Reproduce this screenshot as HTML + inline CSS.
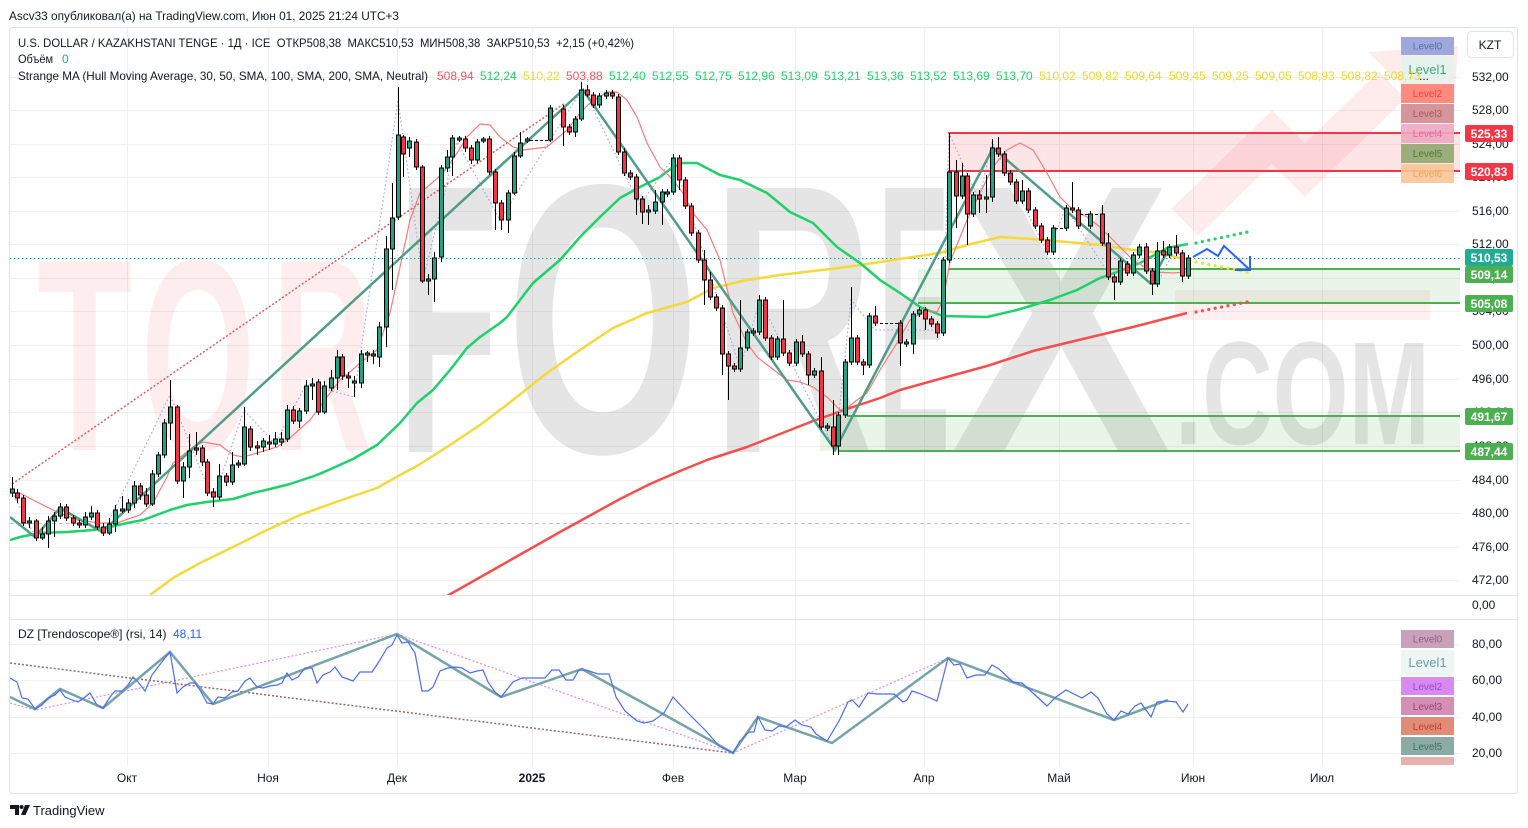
<!DOCTYPE html>
<html><head><meta charset="utf-8"><style>
html,body{margin:0;padding:0;background:#fff;width:1528px;height:828px;overflow:hidden}
svg{display:block;font-family:"Liberation Sans","DejaVu Sans",sans-serif}
</style></head><body>
<svg width="1528" height="828" viewBox="0 0 1528 828" xmlns="http://www.w3.org/2000/svg">
<defs>
<clipPath id="cm"><rect x="10" y="27" width="1450" height="568"/></clipPath>
<clipPath id="cr"><rect x="10" y="620" width="1450" height="146"/></clipPath>
</defs>
<rect width="1528" height="828" fill="#fff"/>
<!-- header -->
<text x="9" y="20" font-size="12" fill="#131722" textLength="390" lengthAdjust="spacingAndGlyphs">Ascv33 опубликовал(а) на TradingView.com, Июн 01, 2025 21:24 UTC+3</text>
<rect x="9.5" y="27.5" width="1508" height="766" rx="3" fill="#fff" stroke="#e0e3eb"/>

<!-- grid main -->
<g stroke="#efefef" stroke-width="1">
<path d="M10 77.5H1460M10 110.5H1460M10 144.5H1460M10 177.5H1460M10 211.5H1460M10 244.5H1460M10 278.5H1460M10 311.5H1460M10 345.5H1460M10 379.5H1460M10 412.5H1460M10 446.5H1460M10 480.5H1460M10 513.5H1460M10 547.5H1460M10 580.5H1460"/>
<path d="M127.5 28V766M268.5 28V766M397.5 28V766M532.5 28V766M673.5 28V766M795.5 28V766M924.5 28V766M1059.5 28V766M1193.5 28V766M1322.5 28V766"/>
<path d="M10 644.5H1460M10 680.5H1460M10 717.5H1460M10 753.5H1460"/>
</g>
<path d="M10 595.5H1517M10 619.5H1517" stroke="#e0e3eb"/>

<g clip-path="url(#cm)">
<!-- watermark -->
<g font-weight="bold" fill="#f23645" fill-opacity="0.09" font-size="274" lengthAdjust="spacingAndGlyphs">
<text x="37" y="450" textLength="95" lengthAdjust="spacingAndGlyphs">T</text>
<text x="141" y="450" textLength="114" lengthAdjust="spacingAndGlyphs">O</text>
<text x="272" y="450" textLength="100" lengthAdjust="spacingAndGlyphs">R</text>
</g>
<g font-weight="bold" fill="#000" fill-opacity="0.1" font-size="384">
<text x="398" y="452" textLength="100" lengthAdjust="spacingAndGlyphs">F</text>
<text x="506" y="452" textLength="194" lengthAdjust="spacingAndGlyphs">O</text>
<text x="712" y="452" textLength="162" lengthAdjust="spacingAndGlyphs">R</text>
<text x="878" y="452" textLength="72" lengthAdjust="spacingAndGlyphs">E</text>
<text x="950" y="452" textLength="222" lengthAdjust="spacingAndGlyphs">X</text>
</g>
<text x="1175" y="444" font-size="147" font-weight="bold" fill="#000" fill-opacity="0.1" textLength="255" lengthAdjust="spacingAndGlyphs">.COM</text>
<polyline points="1185,222 1272,137 1305,170 1392,85" fill="none" stroke="#f23645" stroke-opacity="0.1" stroke-width="38"/>
<polygon points="1368,52 1458,46 1452,134" fill="#f23645" fill-opacity="0.1"/>
<rect x="1175" y="290" width="255" height="30" fill="#f23645" fill-opacity="0.08"/>

<!-- zones -->
<rect x="948" y="133" width="512" height="38" fill="#f23645" fill-opacity="0.13"/>
<rect x="918" y="269" width="542" height="34" fill="#4caf50" fill-opacity="0.13"/>
<rect x="820" y="416" width="640" height="35" fill="#4caf50" fill-opacity="0.13"/>
<path d="M948 133H1460M948 171H1460" stroke="#f23645" stroke-width="2"/>
<path d="M948 269H1460M918 303H1460M847 416H1460M838 451H1460" stroke="#4caf50" stroke-width="2"/>
<path d="M10 523.5H1190" stroke="#c9c4c8" stroke-dasharray="4 3"/>
<path d="M10 258.5H1460" stroke="#22ab94" stroke-dasharray="1.5 2.5"/>

<!-- red dotted trend -->
<path d="M12 484L565 103" stroke="#e35a5a" stroke-width="1.5" stroke-dasharray="2 2" fill="none"/>
<!-- moving averages -->
<polyline fill="none" stroke="#f5d93a" stroke-width="2.5" stroke-linejoin="round" points="150,595 173,578 200,563 233,547 267,530 300,515 333,503 377,488 400,475 417,466 450,445 480,425 513,400 547,373 580,350 613,328 647,313 687,302 713,288 747,280 780,275 813,271 847,267 880,262 913,257 940,253 967,245 1000,237 1033,239 1067,242 1100,245 1133,250 1153,252 1167,255 1180,258 1188,259"/>
<polyline fill="none" stroke="#f44e4e" stroke-width="2.5" stroke-linejoin="round" points="447,596 500,566 560,532 620,499 650,484 680,471 707,460 747,447 780,434 813,421 847,409 880,398 900,390 943,378 987,366 1033,351 1087,338 1133,327 1187,313"/>
<polyline fill="none" stroke="#1fd16a" stroke-width="2.5" stroke-linejoin="round" points="10,540 20,537 40,533 67,532 93,530 110,527 127,523 143,520 170,510 187,505 207,502 233,499 253,493 270,489 290,484 317,475 333,468 353,459 377,445 400,423 417,403 433,390 450,370 467,348 480,337 500,323 507,317 533,283 560,260 580,237 600,217 620,198 640,187 660,177 673,167 683,163 697,163 720,175 740,180 767,193 790,212 813,223 837,247 860,263 880,280 900,293 920,307 943,316 987,317 1017,310 1050,300 1077,290 1100,278 1117,272 1140,263 1167,248 1188,244"/>
<g fill="none" stroke-width="3.2" stroke-linecap="round" stroke-dasharray="0 6.5">
<path d="M1196 243L1252 231" stroke="#1fd16a"/>
<path d="M1196 262L1252 273" stroke="#f2dd2a"/>
<path d="M1196 312L1252 301" stroke="#f44e4e"/>
</g>
<polyline fill="none" stroke="#f77b7b" stroke-width="1.2" points="10,493 20,493 33,500 53,510 77,520 100,523 117,523 140,515 153,503 167,477 173,463 193,447 203,442 220,445 233,455 243,457 257,453 277,447 290,438 310,420 327,397 340,380 350,372 360,363 377,350 390,313 400,267 410,220 420,193 433,182 443,173 457,153 467,137 480,124 490,125 500,137 513,147 523,150 547,147 567,130 580,113 590,103 607,92 617,92 627,100 637,117 647,143 660,167 673,180 683,193 693,213 707,230 720,260 733,313 747,343 757,357 770,367 787,380 800,382 813,387 827,397 840,410 847,408 857,400 867,393 880,370 897,343 910,320 927,310 937,312 943,300 950,262 967,220 980,193 993,167 1007,150 1020,143 1033,150 1047,173 1060,197 1073,210 1087,217 1100,227 1113,240 1133,260 1153,272 1173,273 1187,272"/>
<polyline fill="none" stroke="#9fa8da" stroke-width="1.2" stroke-dasharray="1.5 2.5" points="12,492 36,538 60,507 103,533 170,395 213,500 244,410 275,444 306,384 354,397 398,100 423,280 457,142 500,220 583,88 640,205 673,158 740,368 760,300 835,450 851,300 875,330 943,330 949,133 979,200 992,142 1047,252 1066,208 1114,282 1133,255 1157,284 1176,247 1188,276"/>
<!-- zigzag -->
<polyline fill="none" stroke="#4f9c89" stroke-width="2.5" points="10,517 35,537 60,508 102,532 583,90 835,450 993,148 1150,283 1170,247"/>

<!-- gaps -->
<path d="M530 140.5H550M880 323.5H898M1055 228.5H1066M1080 214.5H1101" stroke="#000" stroke-dasharray="3 2"/>
<!-- candles -->
<g transform="translate(0.5,0)">
<path stroke="#000" stroke-width="1" fill="none" d="M12 477V497M17 489V503M23 495V526M29 517V528M36 519V541M42 527V540M48 516V548M54 512V537M60 503V519M66 504V521M73 515V526M79 520V528M85 512V528M91 506V520M97 510V530M103 523V536M109 518V535M115 505V532M122 496V513M128 499V513M134 481V508M140 483V500M146 488V507M152 470V506M158 452V477M164 419V458M170 380V440M177 405V484M183 462V498M189 434V478M196 432V455M202 445V466M207 459V496M213 488V507M219 464V500M226 473V486M232 452V485M238 460V468M244 407V466M250 426V451M257 441V455M263 438V452M269 435V450M275 432V447M281 432V446M287 405V442M293 406V424M299 408V428M306 380V414M312 378V400M318 379V415M324 381V414M331 370V391M337 350V390M342 354V380M348 372V388M354 376V397M361 350V388M367 351V362M373 350V364M379 322V367M386 236V347M392 183V290M398 87V220M403 135V177M409 137V157M416 139V170M422 165V283M428 274V295M434 252V302M441 165V262M447 150V172M452 135V176M459 136V142M465 136V152M471 145V164M477 139V163M483 137V143M489 136V175M495 169V230M501 200V230M508 190V233M514 152V195M520 132V158M527 137V143M550 105V142M563 105V146M569 124V135M575 116V137M581 82V121M587 85V97M593 92V108M599 93V108M606 90V99M612 90V99M618 94V155M624 148V176M630 170V180M636 174V215M642 196V224M648 205V225M655 190V214M662 189V225M667 189V197M673 154V195M679 155V190M685 177V209M691 203V236M698 230V263M704 250V305M710 272V300M716 294V311M722 305V375M728 351V400M734 363V372M740 300V372M747 329V351M753 328V336M759 295V335M765 297V341M771 335V360M777 336V360M783 300V356M789 350V366M796 339V366M802 335V357M808 351V385M814 368V378M821 357V430M827 423V431M833 400V455M838 412V455M845 359V418M851 287V365M857 335V365M863 359V375M869 313V368M875 306V326M900 320V366M906 339V347M913 311V354M919 307V317M925 307V330M931 316V327M937 321V338M943 257V336M949 133V263M956 160V228M962 163V199M967 173V245M973 192V217M979 190V213M986 175V213M992 139V202M998 137V157M1004 151V176M1010 170V185M1016 179V204M1022 180V204M1028 188V213M1035 207V229M1041 223V243M1047 237V255M1053 225V255M1066 205V231M1072 182V213M1078 207V229M1090 211V229M1102 205V246M1108 233V280M1114 274V300M1120 258V285M1127 261V276M1133 252V276M1139 244V258M1146 243V274M1152 268V295M1157 242V287M1163 241V258M1169 244V258M1176 235V256M1182 250V282M1188 255V279"/>
<g fill="#21a283" stroke="#000" stroke-width="1">
<rect x="10" y="489" width="4" height="4"/><rect x="27" y="521" width="4" height="2"/><rect x="40" y="534" width="4" height="4"/><rect x="46" y="521" width="4" height="13"/><rect x="52" y="516" width="4" height="5"/><rect x="58" y="507" width="4" height="9"/><rect x="83" y="517" width="4" height="8"/><rect x="89" y="513" width="4" height="4"/><rect x="107" y="524" width="4" height="9"/><rect x="113" y="510" width="4" height="14"/><rect x="120" y="509" width="4" height="2"/><rect x="126" y="503" width="4" height="7"/><rect x="132" y="486" width="4" height="17"/><rect x="150" y="474" width="4" height="30"/><rect x="156" y="455" width="4" height="19"/><rect x="162" y="423" width="4" height="32"/><rect x="168" y="407" width="4" height="16"/><rect x="181" y="467" width="4" height="14"/><rect x="187" y="451" width="4" height="16"/><rect x="217" y="476" width="4" height="21"/><rect x="230" y="465" width="4" height="17"/><rect x="236" y="463" width="4" height="2"/><rect x="242" y="427" width="4" height="37"/><rect x="261" y="441" width="4" height="6"/><rect x="273" y="439" width="4" height="5"/><rect x="279" y="439" width="4" height="3"/><rect x="285" y="410" width="4" height="29"/><rect x="297" y="411" width="4" height="10"/><rect x="304" y="386" width="4" height="25"/><rect x="310" y="384" width="4" height="2"/><rect x="322" y="386" width="4" height="26"/><rect x="329" y="378" width="4" height="10"/><rect x="335" y="357" width="4" height="21"/><rect x="352" y="381" width="4" height="2"/><rect x="359" y="354" width="4" height="29"/><rect x="365" y="353" width="4" height="2"/><rect x="371" y="354" width="4" height="2"/><rect x="377" y="327" width="4" height="30"/><rect x="384" y="249" width="4" height="78"/><rect x="390" y="218" width="4" height="31"/><rect x="396" y="135" width="4" height="82"/><rect x="407" y="141" width="4" height="7"/><rect x="426" y="279" width="4" height="2"/><rect x="432" y="258" width="4" height="21"/><rect x="439" y="168" width="4" height="89"/><rect x="445" y="157" width="4" height="11"/><rect x="450" y="138" width="4" height="19"/><rect x="457" y="138" width="4" height="2"/><rect x="475" y="142" width="4" height="18"/><rect x="481" y="139" width="4" height="2"/><rect x="506" y="193" width="4" height="27"/><rect x="512" y="156" width="4" height="37"/><rect x="518" y="143" width="4" height="13"/><rect x="525" y="139" width="4" height="2"/><rect x="548" y="108" width="4" height="32"/><rect x="573" y="119" width="4" height="13"/><rect x="579" y="90" width="4" height="29"/><rect x="597" y="96" width="4" height="9"/><rect x="604" y="93" width="4" height="3"/><rect x="646" y="210" width="4" height="2"/><rect x="653" y="202" width="4" height="9"/><rect x="660" y="192" width="4" height="10"/><rect x="665" y="192" width="4" height="2"/><rect x="671" y="158" width="4" height="34"/><rect x="738" y="348" width="4" height="21"/><rect x="745" y="332" width="4" height="16"/><rect x="751" y="331" width="4" height="2"/><rect x="757" y="300" width="4" height="32"/><rect x="775" y="339" width="4" height="18"/><rect x="794" y="342" width="4" height="21"/><rect x="812" y="371" width="4" height="4"/><rect x="825" y="426" width="4" height="2"/><rect x="836" y="415" width="4" height="31"/><rect x="843" y="362" width="4" height="53"/><rect x="849" y="338" width="4" height="24"/><rect x="867" y="316" width="4" height="49"/><rect x="904" y="342" width="4" height="2"/><rect x="911" y="314" width="4" height="30"/><rect x="917" y="310" width="4" height="4"/><rect x="941" y="260" width="4" height="73"/><rect x="947" y="172" width="4" height="88"/><rect x="960" y="176" width="4" height="20"/><rect x="971" y="195" width="4" height="19"/><rect x="984" y="197" width="4" height="2"/><rect x="990" y="148" width="4" height="49"/><rect x="1020" y="191" width="4" height="10"/><rect x="1051" y="228" width="4" height="24"/><rect x="1064" y="208" width="4" height="20"/><rect x="1088" y="214" width="4" height="12"/><rect x="1118" y="261" width="4" height="21"/><rect x="1131" y="255" width="4" height="18"/><rect x="1137" y="247" width="4" height="8"/><rect x="1155" y="251" width="4" height="33"/><rect x="1167" y="247" width="4" height="8"/><rect x="1186" y="258" width="4" height="18"/>
</g>
<g fill="#f23645" stroke="#000" stroke-width="1">
<rect x="15" y="493" width="4" height="5"/><rect x="21" y="498" width="4" height="25"/><rect x="34" y="521" width="4" height="17"/><rect x="64" y="507" width="4" height="11"/><rect x="71" y="518" width="4" height="5"/><rect x="77" y="523" width="4" height="2"/><rect x="95" y="513" width="4" height="14"/><rect x="101" y="527" width="4" height="6"/><rect x="138" y="486" width="4" height="9"/><rect x="144" y="495" width="4" height="9"/><rect x="175" y="407" width="4" height="74"/><rect x="194" y="448" width="4" height="2"/><rect x="200" y="448" width="4" height="14"/><rect x="205" y="462" width="4" height="31"/><rect x="211" y="492" width="4" height="5"/><rect x="224" y="476" width="4" height="6"/><rect x="248" y="429" width="4" height="18"/><rect x="255" y="446" width="4" height="2"/><rect x="267" y="442" width="4" height="2"/><rect x="291" y="410" width="4" height="11"/><rect x="316" y="382" width="4" height="30"/><rect x="340" y="357" width="4" height="19"/><rect x="346" y="376" width="4" height="2"/><rect x="401" y="137" width="4" height="17"/><rect x="414" y="142" width="4" height="25"/><rect x="420" y="167" width="4" height="114"/><rect x="463" y="139" width="4" height="9"/><rect x="469" y="148" width="4" height="12"/><rect x="487" y="139" width="4" height="33"/><rect x="493" y="172" width="4" height="31"/><rect x="499" y="203" width="4" height="17"/><rect x="561" y="109" width="4" height="18"/><rect x="567" y="127" width="4" height="5"/><rect x="585" y="90" width="4" height="5"/><rect x="591" y="95" width="4" height="10"/><rect x="610" y="93" width="4" height="3"/><rect x="616" y="97" width="4" height="55"/><rect x="622" y="152" width="4" height="21"/><rect x="628" y="173" width="4" height="4"/><rect x="634" y="177" width="4" height="22"/><rect x="640" y="199" width="4" height="13"/><rect x="677" y="158" width="4" height="22"/><rect x="683" y="180" width="4" height="26"/><rect x="689" y="206" width="4" height="27"/><rect x="696" y="233" width="4" height="27"/><rect x="702" y="260" width="4" height="20"/><rect x="708" y="280" width="4" height="17"/><rect x="714" y="297" width="4" height="11"/><rect x="720" y="308" width="4" height="46"/><rect x="726" y="354" width="4" height="12"/><rect x="732" y="366" width="4" height="3"/><rect x="763" y="300" width="4" height="38"/><rect x="769" y="338" width="4" height="19"/><rect x="781" y="339" width="4" height="14"/><rect x="787" y="353" width="4" height="10"/><rect x="800" y="342" width="4" height="12"/><rect x="806" y="354" width="4" height="21"/><rect x="819" y="371" width="4" height="56"/><rect x="831" y="427" width="4" height="19"/><rect x="855" y="338" width="4" height="24"/><rect x="861" y="362" width="4" height="3"/><rect x="873" y="316" width="4" height="7"/><rect x="898" y="323" width="4" height="20"/><rect x="923" y="310" width="4" height="9"/><rect x="929" y="319" width="4" height="5"/><rect x="935" y="324" width="4" height="9"/><rect x="954" y="172" width="4" height="24"/><rect x="965" y="176" width="4" height="38"/><rect x="977" y="195" width="4" height="4"/><rect x="996" y="148" width="4" height="6"/><rect x="1002" y="154" width="4" height="19"/><rect x="1008" y="173" width="4" height="9"/><rect x="1014" y="182" width="4" height="19"/><rect x="1026" y="191" width="4" height="19"/><rect x="1033" y="210" width="4" height="16"/><rect x="1039" y="226" width="4" height="14"/><rect x="1045" y="240" width="4" height="12"/><rect x="1070" y="208" width="4" height="2"/><rect x="1076" y="210" width="4" height="16"/><rect x="1100" y="214" width="4" height="29"/><rect x="1106" y="243" width="4" height="34"/><rect x="1112" y="277" width="4" height="5"/><rect x="1125" y="264" width="4" height="9"/><rect x="1144" y="247" width="4" height="24"/><rect x="1150" y="271" width="4" height="13"/><rect x="1161" y="251" width="4" height="4"/><rect x="1174" y="247" width="4" height="6"/><rect x="1180" y="253" width="4" height="23"/>
</g>
</g>
<!-- blue projection -->
<g fill="none" stroke="#2962ff" stroke-width="2">
<polyline points="1193,257 1207,249 1218,256 1224,246 1250,270"/>
<path d="M1250 256V270H1235"/>
</g>
</g>

<!-- RSI pane -->
<g clip-path="url(#cr)">
<path d="M10 663L733 753" stroke="#8d6e63" stroke-width="1.5" stroke-dasharray="2 2" fill="none"/>
<polyline fill="none" stroke="#d28ef5" stroke-width="1.2" stroke-dasharray="2 2" points="10,703 35,710 397,634 733,753 948,658"/>
<polyline fill="none" stroke="#76a3a8" stroke-width="2.5" points="10,697 35,709 60,689 103,708 170,652 213,704 397,634 501,697 582,669 733,753 758,717 832,743 948,658 1114,720 1168,700"/>
<polyline fill="none" stroke="#4a6cf7" stroke-width="1.2" points="10,678 17,682 22,698 28,699 35,709 42,705 48,698 55,695 60,690 65,697 72,700 78,702 85,697 90,693 97,705 103,708 110,697 115,691 122,691 128,685 133,677 138,682 145,691 152,675 158,667 165,658 170,652 177,693 183,687 190,683 195,683 200,690 207,703 213,704 218,697 225,698 232,692 238,691 245,681 250,678 257,687 263,688 270,686 277,685 282,683 287,673 292,680 298,677 305,668 312,668 317,683 323,675 330,672 335,667 342,677 353,681 360,672 372,672 380,660 387,648 392,645 397,635 402,643 408,642 415,653 422,691 428,691 433,687 440,671 448,668 455,667 462,668 470,673 477,671 483,670 488,682 495,692 501,697 513,682 522,678 545,678 552,670 559,670 566,680 573,680 579,670 586,670 598,674 609,674 616,697 625,711 637,721 644,723 653,721 664,713 673,697 687,712 706,731 719,746 733,753 740,741 749,732 754,732 758,717 765,730 772,731 779,726 786,727 795,720 802,725 811,727 816,734 827,741 839,721 848,702 852,700 859,707 868,693 878,694 894,694 903,702 907,700 912,691 921,694 937,701 948,658 954,665 960,664 967,678 976,675 985,675 992,665 999,669 1013,682 1022,683 1034,694 1047,706 1056,697 1066,690 1072,693 1082,698 1091,692 1098,698 1107,714 1114,720 1121,711 1128,714 1135,706 1141,703 1151,717 1157,702 1167,701 1176,702 1183,712 1188,704"/>
</g>
<text x="18" y="638" font-size="12" fill="#131722">DZ [Trendoscope®] (rsi, 14)</text>
<text x="173" y="638" font-size="12" fill="#2962ff">48,11</text>

<!-- level boxes -->
<g font-size="10" text-anchor="middle">
<rect x="1401" y="37" width="53" height="18" fill="#9fa8da"/><text x="1427.5" y="49.5" fill="#5c6bc0">Level0</text>
<rect x="1401" y="56" width="53" height="27" fill="#e4f3ec" fill-opacity="0.85"/><text x="1427.5" y="74" font-size="13" fill="#3da58a">Level1</text>
<rect x="1401" y="84" width="53" height="19" fill="#ff8a80"/><text x="1427.5" y="97" fill="#f0443a">Level2</text>
<rect x="1401" y="104" width="53" height="19" fill="#d4959b"/><text x="1427.5" y="117" fill="#b05560">Level3</text>
<rect x="1401" y="124" width="53" height="19" fill="#eea7c1" fill-opacity="0.9"/><text x="1427.5" y="137" fill="#e06b95">Level4</text>
<rect x="1401" y="144" width="53" height="19" fill="#9aad7b"/><text x="1427.5" y="157" fill="#4f7d35">Level5</text>
<rect x="1401" y="164" width="53" height="19" fill="#f8c596" fill-opacity="0.9"/><text x="1427.5" y="177" fill="#f7a350">Level6</text>
<rect x="1401" y="630" width="53" height="18" fill="#c8a2bb"/><text x="1427.5" y="642.5" fill="#9a5a88">Level0</text>
<rect x="1401" y="650" width="53" height="26" fill="#eef5f5"/><text x="1427.5" y="667" font-size="13" fill="#6a9aa8">Level1</text>
<rect x="1401" y="677" width="53" height="18" fill="#d88af0"/><text x="1427.5" y="690" fill="#a543d6">Level2</text>
<rect x="1401" y="697" width="53" height="18" fill="#d490b4"/><text x="1427.5" y="710" fill="#a04080">Level3</text>
<rect x="1401" y="717" width="53" height="18" fill="#e08c78"/><text x="1427.5" y="730" fill="#c04030">Level4</text>
<rect x="1401" y="737" width="53" height="18" fill="#8aaca4"/><text x="1427.5" y="750" fill="#3f7068">Level5</text>
<rect x="1401" y="757" width="53" height="8" fill="#e6b2b0"/>
</g>

<!-- legend -->
<g font-size="12" fill="#131722">
<text x="18" y="47" xml:space="preserve" textLength="616" lengthAdjust="spacingAndGlyphs">U.S. DOLLAR / KAZAKHSTANI TENGE · 1Д · ICE  ОТКР508,38  МАКС510,53  МИН508,38  ЗАКР510,53  +2,15 (+0,42%)</text>
<text x="18" y="63" textLength="35" lengthAdjust="spacingAndGlyphs">Объём</text>
<text x="62" y="63" fill="#22ab94">0</text>
<text x="18" y="80" textLength="410" lengthAdjust="spacingAndGlyphs">Strange MA (Hull Moving Average, 30, 50, SMA, 100, SMA, 200, SMA, Neutral)</text>
</g>
<g font-size="12">
<text x="437" y="80" fill="#f7525f">508,94</text>
<text x="480" y="80" fill="#1fd16a">512,24</text>
<text x="523" y="80" fill="#ecd82a">510,22</text>
<text x="566" y="80" fill="#f7525f">503,88</text>
<text x="609" y="80" fill="#1fd16a">512,40</text>
<text x="652" y="80" fill="#1fd16a">512,55</text>
<text x="695" y="80" fill="#1fd16a">512,75</text>
<text x="738" y="80" fill="#1fd16a">512,96</text>
<text x="781" y="80" fill="#1fd16a">513,09</text>
<text x="824" y="80" fill="#1fd16a">513,21</text>
<text x="867" y="80" fill="#1fd16a">513,36</text>
<text x="910" y="80" fill="#1fd16a">513,52</text>
<text x="953" y="80" fill="#1fd16a">513,69</text>
<text x="996" y="80" fill="#1fd16a">513,70</text>
<text x="1039" y="80" fill="#ecd82a">510,02</text>
<text x="1082" y="80" fill="#ecd82a">509,82</text>
<text x="1125" y="80" fill="#ecd82a">509,64</text>
<text x="1169" y="80" fill="#ecd82a">509,45</text>
<text x="1212" y="80" fill="#ecd82a">509,25</text>
<text x="1255" y="80" fill="#ecd82a">509,05</text>
<text x="1298" y="80" fill="#ecd82a">508,93</text>
<text x="1341" y="80" fill="#ecd82a">508,82</text>
<text x="1384" y="80" fill="#ecd82a">508,73</text>
<text x="1419" y="80" fill="#131722">...</text>
</g>

<!-- price axis -->
<g font-size="12" fill="#131722">
<text x="1472" y="81">532,00</text><text x="1472" y="114">528,00</text><text x="1472" y="148">524,00</text><text x="1472" y="181">520,00</text>
<text x="1472" y="215">516,00</text><text x="1472" y="248">512,00</text><text x="1472" y="282">508,00</text><text x="1472" y="315">504,00</text>
<text x="1472" y="349">500,00</text><text x="1472" y="383">496,00</text><text x="1472" y="416">492,00</text><text x="1472" y="450">488,00</text>
<text x="1472" y="484">484,00</text><text x="1472" y="517">480,00</text><text x="1472" y="551">476,00</text><text x="1472" y="584">472,00</text>
<text x="1472" y="609">0,00</text>
<text x="1472" y="648">80,00</text><text x="1472" y="684">60,00</text><text x="1472" y="721">40,00</text><text x="1472" y="757">20,00</text>
</g>
<g font-size="12" font-weight="bold" fill="#fff" text-anchor="middle">
<rect x="1465" y="125" width="48" height="17" rx="2" fill="#f23645"/><text x="1489" y="138">525,33</text>
<rect x="1465" y="163" width="48" height="17" rx="2" fill="#f23645"/><text x="1489" y="176">520,83</text>
<rect x="1465" y="249" width="48" height="17" rx="2" fill="#22ab94"/><text x="1489" y="262">510,53</text>
<rect x="1465" y="266" width="48" height="17" rx="2" fill="#4caf50"/><text x="1489" y="279">509,14</text>
<rect x="1465" y="295" width="48" height="17" rx="2" fill="#4caf50"/><text x="1489" y="308">505,08</text>
<rect x="1465" y="408" width="48" height="17" rx="2" fill="#4caf50"/><text x="1489" y="421">491,67</text>
<rect x="1465" y="443" width="48" height="17" rx="2" fill="#4caf50"/><text x="1489" y="456">487,44</text>
</g>
<rect x="1467.5" y="31.5" width="46" height="26" rx="4" fill="#fff" stroke="#e0e3eb"/>
<text x="1490" y="49" font-size="12" fill="#131722" text-anchor="middle">KZT</text>

<!-- time axis -->
<g font-size="12" fill="#131722" text-anchor="middle">
<text x="127" y="782">Окт</text><text x="268" y="782">Ноя</text><text x="397" y="782">Дек</text>
<text x="532" y="782" font-weight="bold">2025</text><text x="673" y="782">Фев</text><text x="795" y="782">Мар</text>
<text x="924" y="782">Апр</text><text x="1059" y="782">Май</text><text x="1193" y="782">Июн</text><text x="1322" y="782">Июл</text>
</g>

<!-- footer logo -->
<g fill="#131722">
<path d="M10 805H19V815H15V809H10Z"/>
<circle cx="21.5" cy="807" r="2"/>
<path d="M25 805H30L25.5 815H21Z"/>
<text x="33" y="815" font-size="13">TradingView</text>
</g>
</svg>
</body></html>
